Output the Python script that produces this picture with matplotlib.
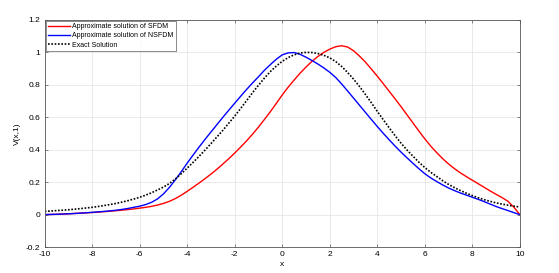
import numpy as np
import matplotlib.pyplot as plt

# x positions of the read-off points (step 0.25)
x = np.linspace(-10, 10, 81)

# approximate solution of SFDM (red)
v_sfdm = [0.000, 0.001, 0.002, 0.0035, 0.005, 0.007, 0.009, 0.011, 0.013, 0.0155,
          0.018, 0.021, 0.024, 0.0275, 0.031, 0.035, 0.040, 0.045, 0.051, 0.059,
          0.069, 0.082, 0.099, 0.120, 0.144, 0.169, 0.195, 0.222, 0.250, 0.280,
          0.312, 0.345, 0.380, 0.417, 0.455, 0.496, 0.540, 0.587, 0.635, 0.686,
          0.738, 0.786, 0.830, 0.872, 0.910, 0.945, 0.975, 1.000, 1.020, 1.035,
          1.041, 1.033, 1.010, 0.977, 0.940, 0.897, 0.853, 0.807, 0.760, 0.713,
          0.665, 0.615, 0.565, 0.515, 0.467, 0.422, 0.382, 0.345, 0.312, 0.283,
          0.257, 0.234, 0.212, 0.190, 0.168, 0.146, 0.125, 0.105, 0.082, 0.045,
          0.000]

# approximate solution of NSFDM (blue)
v_nsfdm = [0.000, 0.001, 0.002, 0.0035, 0.005, 0.007, 0.009, 0.0115, 0.014, 0.017,
           0.020, 0.023, 0.027, 0.032, 0.038, 0.045, 0.052, 0.062, 0.076, 0.097,
           0.128, 0.168, 0.215, 0.265, 0.318, 0.368, 0.417, 0.464, 0.510, 0.555,
           0.600, 0.644, 0.687, 0.730, 0.772, 0.812, 0.850, 0.890, 0.925, 0.958,
           0.985, 0.997, 0.999, 0.988, 0.970, 0.950, 0.928, 0.904, 0.877, 0.845,
           0.805, 0.762, 0.718, 0.674, 0.630, 0.586, 0.543, 0.501, 0.461, 0.422,
           0.385, 0.350, 0.316, 0.283, 0.252, 0.226, 0.204, 0.183, 0.164, 0.148,
           0.133, 0.120, 0.107, 0.094, 0.080, 0.065, 0.050, 0.037, 0.025, 0.012,
           0.000]

# exact solution (black dotted)
v_exact = [0.020, 0.022, 0.025, 0.027, 0.030, 0.033, 0.037, 0.041, 0.045, 0.050,
           0.056, 0.062, 0.069, 0.077, 0.086, 0.096, 0.107, 0.120, 0.135, 0.152,
           0.170, 0.192, 0.220, 0.252, 0.287, 0.323, 0.360, 0.398, 0.438, 0.479,
           0.520, 0.564, 0.608, 0.655, 0.703, 0.752, 0.798, 0.842, 0.882, 0.916,
           0.945, 0.968, 0.985, 0.996, 1.000, 0.999, 0.993, 0.982, 0.966, 0.943,
           0.913, 0.876, 0.835, 0.790, 0.740, 0.689, 0.636, 0.585, 0.535, 0.486,
           0.440, 0.398, 0.360, 0.323, 0.290, 0.261, 0.235, 0.209, 0.186, 0.166,
           0.148, 0.132, 0.117, 0.104, 0.092, 0.082, 0.072, 0.065, 0.058, 0.052,
           0.047]

xticks = [-10, -8, -6, -4, -2, 0, 2, 4, 6, 8, 10]
xtick_labels = ["-10", "-8", "-6", "-4", "-2", "0", "2", "4", "6", "8", "10"]
yticks = [-0.2, 0, 0.2, 0.4, 0.6, 0.8, 1, 1.2]
ytick_labels = ["-0.2", "0", "0.2", "0.4", "0.6", "0.8", "1", "1.2"]

plt.rcParams['font.family'] = ['Liberation Sans', 'DejaVu Sans']

fig = plt.figure(figsize=(5.59, 2.73), dpi=100)
ax = fig.add_axes([0.080, 0.095, 0.850, 0.832])

ax.plot(x, v_sfdm, color='#ff0000', lw=1.0, label="Approximate solution of SFDM")
ax.plot(x, v_nsfdm, color='#0000ff', lw=1.0, label="Approximate solution of NSFDM")
ax.plot(x, v_exact, color='black', lw=1.2, ls=(0, (1, 1)), label="Exact Solution")

ax.set_xlim(-10, 10)
ax.set_ylim(-0.2, 1.2)
ax.set_xticks(xticks)
ax.set_xticklabels(xtick_labels)
ax.set_yticks(yticks)
ax.set_yticklabels(ytick_labels)
ax.tick_params(direction='in', length=2.5, width=0.5, labelsize=6,
               top=True, right=True, color='#555555', pad=3)
for s in ax.spines.values():
    s.set_linewidth(0.6)
    s.set_color('#555555')
ax.grid(True, color='#e6e6e6', lw=0.6)
ax.set_axisbelow(True)

ax.set_xlabel("x", fontsize=6, labelpad=2)
ax.set_ylabel("V(x,1)", fontsize=6, labelpad=4)

leg = ax.legend(loc='upper left', fontsize=5, frameon=True, fancybox=False,
                handlelength=3.2, borderpad=0.35, labelspacing=0.3,
                handletextpad=0.3, borderaxespad=0.15)
leg.get_frame().set_edgecolor('#555555')
leg.get_frame().set_linewidth(0.6)

fig.savefig("out.png", dpi=100)
